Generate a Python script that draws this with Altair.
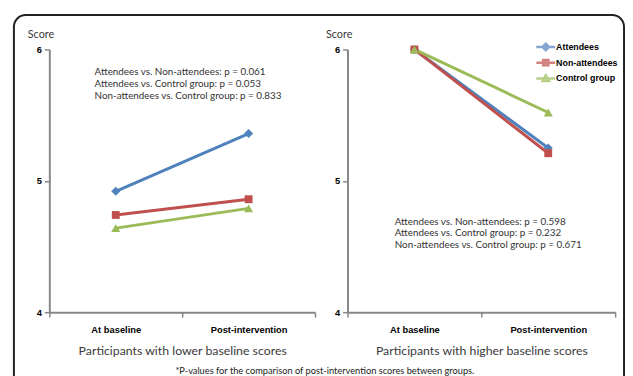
import altair as alt
import pandas as pd

groups = ["Attendees", "Non-attendees", "Control group"]
colors = ["#4F81BD", "#C0504D", "#9BBB59"]
shapes = ["diamond", "square", "triangle-up"]
legend_paths = [
    "M-1.6,0L1.6,0M0,-0.55L0.55,0L0,0.55L-0.55,0Z",
    "M-1.6,0L1.6,0M-0.45,-0.45L0.45,-0.45L0.45,0.45L-0.45,0.45Z",
    "M-1.6,0L1.6,0M0,-0.55L0.55,0.45L-0.55,0.45Z",
]
timepoints = ["At baseline", "Post-intervention"]

lower_attendees = [4.92, 5.36]
lower_nonatt = [4.74, 4.86]
lower_control = [4.64, 4.79]

higher_attendees = [6.0, 5.25]
higher_nonatt = [6.0, 5.21]
higher_control = [6.0, 5.52]

lower_notes = [
    "Attendees vs. Non-attendees: p = 0.061",
    "Attendees vs. Control group: p = 0.053",
    "Non-attendees vs. Control group: p = 0.833",
]
higher_notes = [
    "Attendees vs. Non-attendees: p = 0.598",
    "Attendees vs. Control group: p = 0.232",
    "Non-attendees vs. Control group: p = 0.671",
]
footnote = "*P-values for the comparison of post-intervention scores between groups."
y_ticks = [4, 5, 6]


def make_df(a, n, c):
    rows = []
    for g, vals in zip(groups, [a, n, c]):
        for t, v in zip(timepoints, vals):
            rows.append({"group": g, "time": t, "score": v})
    return pd.DataFrame(rows)


def panel(df, title, notes, note_x, note_y, with_legend=False, with_frame=False):
    x = alt.X("time:N", scale=alt.Scale(type="band", domain=timepoints, paddingInner=0, paddingOuter=0),
              axis=alt.Axis(title=title, labelAngle=0, tickBand="extent", titleY=39,
                            titleBaseline="middle"))
    y = alt.Y("score:Q", scale=alt.Scale(domain=[4, 6], nice=False, zero=False),
              axis=alt.Axis(title="Score", values=y_ticks, titleAngle=0,
                            labelExpr="format(datum.value, 'd')",
                            titleX=-9, titleY=-15, titleAlign="center", titleBaseline="middle"))
    base = alt.Chart(df)
    layers = []
    for g, col, shp in zip(groups, colors, shapes):
        sub = base.transform_filter(alt.datum.group == g)
        layers.append(sub.mark_line(strokeWidth=3, color=col).encode(x=x, y=y))
    for g, col, shp in zip(groups, colors, shapes):
        sub = base.transform_filter(alt.datum.group == g)
        size = 64 if shp == "square" else 85
        layers.append(sub.mark_point(shape=shp, filled=True, size=size, color=col, opacity=1).encode(x=x, y=y))
    one = alt.Chart(pd.DataFrame({"k": [0]}))
    layers.append(one.mark_text(align="left", baseline="middle", lineHeight=12, font="Lato",
                                fontSize=10, color="#333333").encode(
        x=alt.value(note_x), y=alt.value(note_y), text=alt.value(notes)))
    if with_legend:
        leg = alt.Legend(title=None, orient="none", legendX=497, legendY=-10, padding=0,
                         symbolSize=144, symbolStrokeWidth=2.5, rowPadding=-1, labelOffset=3,
                         labelFont="Liberation Sans", labelFontWeight="bold", labelFontSize=9,
                         labelColor="#000000")
        layers.append(base.transform_filter("datum.score > 100").mark_point(filled=True, size=144).encode(
            x=x, y=y,
            fill=alt.Fill("group:N", scale=alt.Scale(domain=groups, range=colors), legend=leg),
            stroke=alt.Stroke("group:N", scale=alt.Scale(domain=groups, range=colors), legend=leg),
            shape=alt.Shape("group:N", scale=alt.Scale(domain=groups, range=legend_paths), legend=leg),
        ))
    if with_frame:
        layers.insert(0, one.mark_rect(fill=None, stroke="#222222", strokeWidth=2, cornerRadius=12).encode(
            x=alt.value(-36), x2=alt.value(584), y=alt.value(-35), y2=alt.value(345)))
        layers.append(one.mark_text(align="center", baseline="middle", font="Lato", fontSize=9.4,
                                    color="#222222").encode(
            x=alt.value(280), y=alt.value(327), text=alt.value(footnote)))
    return alt.layer(*layers)


left = panel(make_df(lower_attendees, lower_nonatt, lower_control),
             "Participants with lower baseline scores", lower_notes, 46, 23, with_frame=True
             ).properties(width=270, height=267)
right = panel(make_df(higher_attendees, higher_nonatt, higher_control),
              "Participants with higher baseline scores", higher_notes, 48, 175, with_legend=True
              ).properties(width=272, height=267)

chart = alt.hconcat(left, right, spacing=33, bounds="flush").properties(
    padding={"left": 5, "top": 3, "right": 0, "bottom": 0},
    background="white",
).configure_view(stroke=None).configure_axis(
    domainColor="#868686", domainWidth=2, tickColor="#868686", tickWidth=1.5, tickSize=5,
    grid=False, labelFont="Liberation Sans", labelFontWeight="bold", labelColor="#000000",
    titleFont="Lato", titleFontWeight="normal", titleColor="#3a3a3a",
).configure_axisY(labelFontSize=9.5, labelPadding=3, titleFontSize=11, labelOverlap=False
).configure_axisX(labelFontSize=9.5, labelPadding=8, titleFontSize=12.5)

chart.save("out.html", embed_options={"renderer": "svg", "actions": False})
